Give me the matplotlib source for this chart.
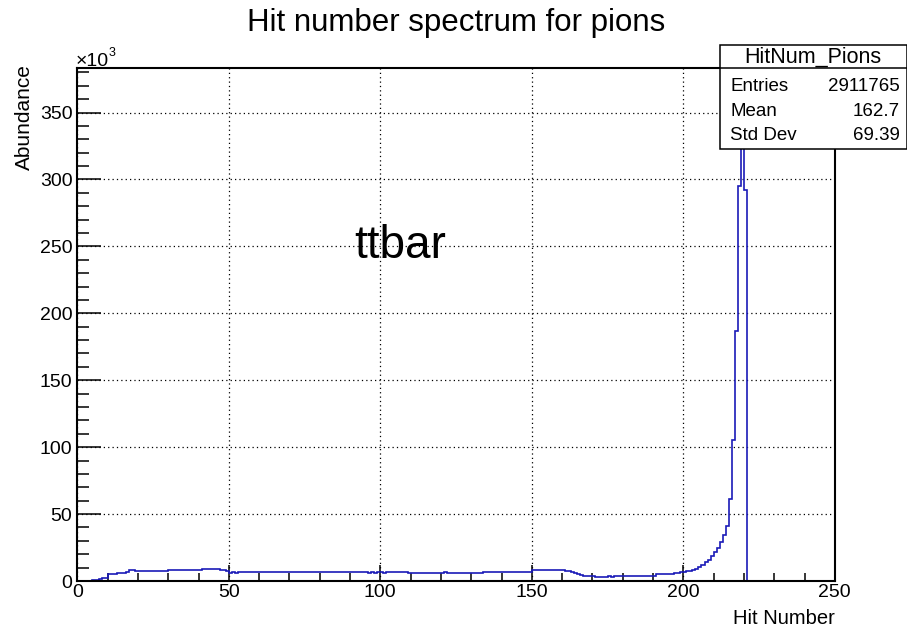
import numpy as np
import matplotlib
matplotlib.use("Agg")
import matplotlib.pyplot as plt
from matplotlib.patches import Rectangle
from matplotlib.lines import Line2D
from matplotlib.ticker import MultipleLocator

plt.rcParams['font.family'] = ['Liberation Sans', 'DejaVu Sans']

# ---------------- data ----------------
title = "Hit number spectrum for pions"
x_label = "Hit Number"
y_label = "Abundance"
annotation = "ttbar"
stats_name = "HitNum_Pions"
stats_labels = ["Entries", "Mean", "Std Dev"]
stats_values = ["2911765", "162.7", "69.39"]

bin_low = 0
bin_high = 250
# counts per unit bin (in thousands), bins [0,1), [1,2), ... [249,250)
counts_k = (
    [0.0] * 5 +
    [0.5, 0.8, 1.5, 2.3, 2.5] +
    [5.0] * 3 + [6.0] * 3 + [7.0] + [8.0] * 2 +
    [7.2] * 11 + [7.9] * 11 + [8.8] * 6 +
    [8.2, 8.2, 7.5, 6.2, 6.5, 6.2, 7.0] +
    [6.7] * 42 +
    [6.0, 6.7, 6.2, 6.7, 6.7, 6.0, 6.7] +
    [6.7] * 6 + [6.0] * 12 + [7.0] + [6.0] * 12 + [6.7] * 16 +
    [8.2] * 11 +
    [7.8, 7.2, 6.5, 5.8, 5.0, 4.6] +
    [4.0] * 4 + [3.2] * 4 + [3.7, 3.1, 3.7, 3.7] +
    [4.0] * 12 +
    [5.0, 5.0, 5.4, 5.4, 5.4, 5.4, 6.1, 6.1, 6.9, 6.9, 7.6, 7.6] +
    [8.3, 9.2, 10.5, 12.0, 14.0, 16.0, 18.5, 21.5, 25.0, 29.5, 34.5, 41.0] +
    [61.0, 105.0, 187.0, 295.0, 365.0, 292.0] +
    [0.0] * 29
)
x_ticks = [0, 50, 100, 150, 200, 250]
y_ticks_k = [0, 50, 100, 150, 200, 250, 300, 350]

# ---------------- figure ----------------
W, H = 907, 627
fig = plt.figure(figsize=(W / 100, H / 100), dpi=100)
L, R, B, T = 77.3, 834.8, 581, 68
ax = fig.add_axes([L / W, 1 - B / H, (R - L) / W, (B - T) / H])

edges = np.arange(bin_low, bin_high + 1)
ax.stairs(counts_k, edges, color='#1a1ab8', linewidth=1.2, zorder=2.2)

ymax = max(counts_k) * 1.05
ax.set_xlim(bin_low, bin_high)
ax.set_ylim(0, ymax)

ax.set_xticks(x_ticks)
ax.set_yticks(y_ticks_k)
ax.xaxis.set_minor_locator(MultipleLocator(10))
ax.yaxis.set_minor_locator(MultipleLocator(10))
ax.tick_params(axis='both', which='both', direction='in', top=False, right=False,
               labelsize=14, colors='black', width=1.1)
ax.tick_params(axis='x', which='major', length=11.5, pad=2)
ax.tick_params(axis='x', which='minor', length=5.8)
ax.tick_params(axis='y', which='major', length=17, pad=3.5)
ax.tick_params(axis='y', which='minor', length=8.5)
for s in ax.spines.values():
    s.set_linewidth(1.5)
    s.set_color('black')
    s.set_zorder(3)

ax.grid(True, which='major', color='black', linestyle=(0, (1, 2.5)), linewidth=0.9)
ax.set_axisbelow(True)

ax.text(91.3, 241, annotation, fontsize=33, ha='left', va='baseline', zorder=4)

fig.text(456 / W, 1 - 23 / H, title, fontsize=22.5, ha='center', va='center')
fig.text(R / W, 1 - 619 / H, x_label, fontsize=14.5, ha='right', va='center')
fig.text(24 / W, 1 - 64 / H, y_label, fontsize=15, rotation=90, ha='center', va='top')

# x10^3 multiplier
fig.text(76 / W, 1 - 66 / H, "\u00d710", fontsize=14, ha='left', va='baseline')
fig.text(109 / W, 1 - 56 / H, "3", fontsize=9, ha='left', va='baseline')

# stats box
bx0, bx1, by0, by1, bsep = 720, 906.5, 45, 148.5, 67.7
fig.add_artist(Rectangle((bx0 / W, 1 - by1 / H), (bx1 - bx0) / W, (by1 - by0) / H,
                         transform=fig.transFigure, facecolor='white', edgecolor='black',
                         linewidth=1.1, zorder=10))
fig.add_artist(Line2D([bx0 / W, bx1 / W], [1 - bsep / H, 1 - bsep / H],
                      transform=fig.transFigure, color='black', linewidth=1.1, zorder=11))
fig.text((bx0 + bx1) / 2 / W, 1 - 57 / H, stats_name, fontsize=15.5,
         ha='center', va='center', zorder=12)
row_y = [86.7, 111, 135]
for lab, val, yy in zip(stats_labels, stats_values, row_y):
    fig.text(730 / W, 1 - yy / H, lab, fontsize=13.5, ha='left', va='center', zorder=12)
    fig.text(900 / W, 1 - yy / H, val, fontsize=13.5, ha='right', va='center', zorder=12)

fig.savefig("out.png", dpi=100)
